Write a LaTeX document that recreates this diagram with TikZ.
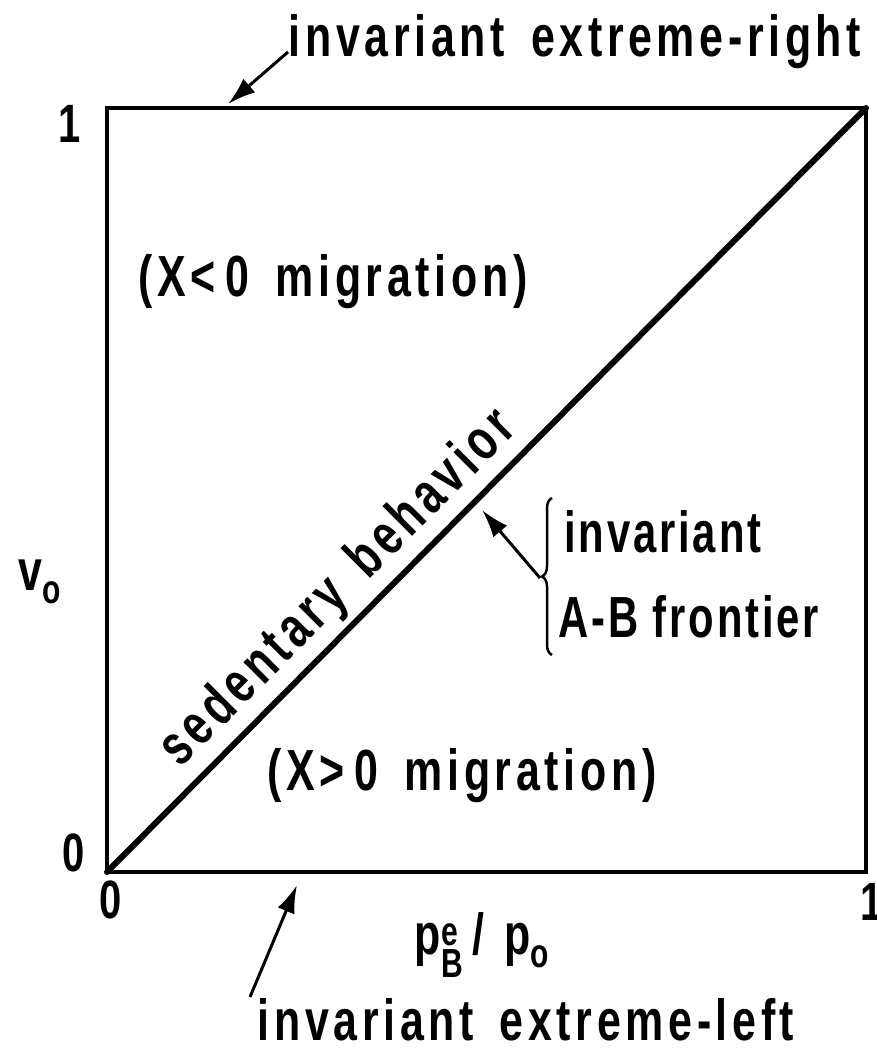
\documentclass[tikz,border=0pt]{standalone}
\usepackage{amsmath}
\usepackage{fontspec}
\usetikzlibrary{arrows.meta,positioning,decorations.pathreplacing}
\newfontfamily\lettering[FakeStretch=0.74,LetterSpace=8]{Liberation Sans}
\newfontfamily\letteringtight[FakeStretch=0.72,LetterSpace=5]{Liberation Sans}

\tikzset{
  lbl/.style={font=\lettering\bfseries\fontsize{58}{64}\selectfont,inner sep=0pt},
  sidelbl/.style={font=\letteringtight\bfseries\fontsize{58}{64}\selectfont,inner sep=0pt,anchor=west},
  tick/.style={font=\lettering\bfseries\fontsize{54}{58}\selectfont,inner sep=0pt},
  pointer/.style={line width=3pt,-{Latex[length=28pt,width=18pt]}}
}

\begin{document}
\begin{tikzpicture}[x=1pt,y=-1pt]
\useasboundingbox (0,0) rectangle (876,1054);

% frame of the unit square
\coordinate (ll) at (107,872);
\coordinate (ur) at (866,108);
\draw[line width=4pt] (ll) rectangle (ur);
\draw[line width=6pt,line cap=round] (ll) -- (ur);

% ticks
\node[tick] (ytop) at (70,124) {1};
\node[tick] (ybot) at (74,853) {0};
\node[tick] (xleft) at (111,900) {0};
\node[tick] (xright) at (872,902) {1};

% axis labels
\node[lbl] (ylab) at (40,582) {v$_{\text{o}}$};
\node[lbl] (xlab) at (482,945) {p$^{\text{e}}_{\text{B}}$\,/\,\,p$_{\text{o}}$};

% regions
\node[lbl] (upper) at (333,282) {(X<\,0\, migration)};
\node[lbl] (lower) at (462,776) {(X>\,0\, migration)};
\node[lbl,rotate=45] (sed) at (339,589) {sedentary\, behavior};

% invariant extremes
\node[lbl] (topinv) at (575,42) {invariant\, extreme-right};
\node[lbl] (botinv) at (526,1020) {invariant\, extreme-left};
\coordinate (toptail) at (288,52);
\coordinate (topend) at (228,104);
\coordinate (bottail) at (250,997);
\coordinate (botend) at (297,885);
\draw[pointer] (toptail) -- (topend);
\draw[pointer] (bottail) -- (botend);

% frontier
\node[sidelbl] (inv) at (564,532) {invariant};
\node[sidelbl] (ab) at (558,617) {A-B frontier};
\draw[line width=2.5pt,decorate,decoration={brace,amplitude=10pt}]
  (552,655) coordinate (brb) -- (552,498) coordinate (brt);
\coordinate (brtip) at (540,578);
\coordinate (frontend) at (482,510);
\draw[pointer] (brtip) -- (frontend);
\end{tikzpicture}
\end{document}
